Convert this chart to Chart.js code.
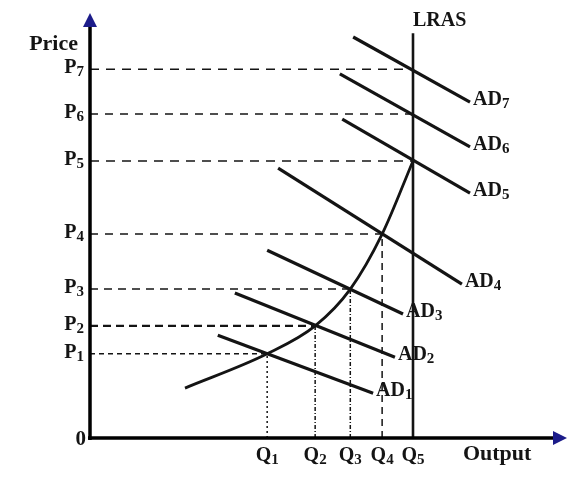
<!DOCTYPE html>
<html>
<head>
<meta charset="utf-8">
<script src="https://cdn.jsdelivr.net/npm/chart.js@4"></script>
<style>
  html, body { margin: 0; padding: 0; background: #fff; }
  #wrap { width: 584px; height: 479px; position: relative; }
</style>
</head>
<body>
<div id="wrap"><canvas id="chart"></canvas></div>
<script>
/* Data (axis units 0-100) */
const qNames = ["1", "2", "3", "4", "5"];
const qValues = [37.3, 47.4, 54.8, 61.5, 68.0];
const pNames = ["1", "2", "3", "4", "5", "6", "7"];
const pValues = [19.9, 26.5, 35.2, 48.2, 65.5, 76.6, 87.2];
// which Q each P meets
const pToQ = [0, 1, 2, 3, 4, 4, 4];

// short-run curve: starting point, then through each equilibrium
const asX = [20.0, 37.3, 47.4, 54.8, 61.5, 68.0];
const asY = [11.8, 19.9, 26.5, 35.2, 48.2, 65.5];

// AD lines: start and end points
const adNames = ["1", "2", "3", "4", "5", "6", "7"];
const adStartX = [26.9, 30.5, 37.3, 39.6, 53.1, 52.6, 55.4];
const adStartY = [24.3, 34.3, 44.4, 63.8, 75.4, 86.1, 94.8];
const adEndX = [59.6, 64.2, 65.9, 78.3, 80.0, 80.0, 80.0];
const adEndY = [10.6, 19.1, 29.3, 36.4, 57.9, 68.8, 79.4];

const lrasTop = 95.7;

const INK = "#141414";
const ARROW = "#1c1c8a";
const FONT = "'Liberation Serif', 'Times New Roman', serif";

/* Datasets */
const datasets = [];

// horizontal dashed guides
pValues.forEach((p, i) => {
    const dashes = [[5, 4], [8, 5], [8, 6], [8, 7], [9, 7], [8, 7], [9, 7]];
    datasets.push({
        data: [{ x: 0, y: p }, { x: qValues[pToQ[i]], y: p }],
        borderColor: INK,
        borderWidth: i === 1 ? 2.2 : 1.5,
        borderDash: dashes[i]
    });
});

// vertical guides under Q1..Q4
const vDashes = [[2, 3], [4, 2, 1, 2], [4, 2, 1, 2], [7, 5]];
qValues.slice(0, 4).forEach((q, i) => {
    datasets.push({
        data: [{ x: q, y: 0 }, { x: q, y: pValues[i] }],
        borderColor: INK,
        borderWidth: 1.5,
        borderDash: vDashes[i]
    });
});

// AD lines
adNames.forEach((n, i) => {
    datasets.push({
        data: [{ x: adStartX[i], y: adStartY[i] }, { x: adEndX[i], y: adEndY[i] }],
        borderColor: INK,
        borderWidth: 3.2
    });
});

// LRAS
datasets.push({
    data: [{ x: qValues[4], y: 0 }, { x: qValues[4], y: lrasTop }],
    borderColor: INK,
    borderWidth: 2.6
});

// AS curve
datasets.push({
    data: asX.map((x, i) => ({ x, y: asY[i] })),
    borderColor: INK,
    borderWidth: 2.8,
    cubicInterpolationMode: "monotone"
});

/* Helpers */
function subText(ctx, main, sub, x, y, align, size) {
    const subSize = Math.round(size * 0.74);
    ctx.font = `bold ${size}px ${FONT}`;
    const wMain = ctx.measureText(main).width;
    ctx.font = `bold ${subSize}px ${FONT}`;
    const wSub = ctx.measureText(sub).width;
    const total = wMain + wSub;
    let left = x;
    if (align === "right") left = x - total;
    if (align === "center") left = x - total / 2;
    ctx.textAlign = "left";
    ctx.textBaseline = "middle";
    ctx.fillStyle = INK;
    ctx.font = `bold ${size}px ${FONT}`;
    ctx.fillText(main, left, y);
    ctx.font = `bold ${subSize}px ${FONT}`;
    ctx.fillText(sub, left + wMain, y + size * 0.22);
}

const decor = {
    id: "decor",
    afterDraw(chart) {
        const ctx = chart.ctx;
        const xs = chart.scales.x, ys = chart.scales.y;
        const x0 = xs.getPixelForValue(0), y0 = ys.getPixelForValue(0);
        const xEnd = xs.getPixelForValue(100), yEnd = ys.getPixelForValue(100);
        ctx.save();

        // axes
        ctx.strokeStyle = "#000";
        ctx.lineWidth = 3.5;
        ctx.beginPath();
        ctx.moveTo(x0, y0 + 2);
        ctx.lineTo(x0, yEnd + 10);
        ctx.moveTo(x0 - 2, y0);
        ctx.lineTo(xEnd - 10, y0);
        ctx.stroke();

        // arrow heads
        ctx.fillStyle = ARROW;
        ctx.beginPath();
        ctx.moveTo(x0, yEnd - 2);
        ctx.lineTo(x0 - 7, yEnd + 12);
        ctx.lineTo(x0 + 7, yEnd + 12);
        ctx.closePath();
        ctx.fill();
        ctx.beginPath();
        ctx.moveTo(xEnd + 2, y0);
        ctx.lineTo(xEnd - 12, y0 - 7);
        ctx.lineTo(xEnd - 12, y0 + 7);
        ctx.closePath();
        ctx.fill();

        // P labels
        pValues.forEach((p, i) => {
            subText(ctx, "P", pNames[i], x0 - 6, ys.getPixelForValue(p) - 1, "right", 20);
        });
        // Q labels
        qValues.forEach((q, i) => {
            subText(ctx, "Q", qNames[i], xs.getPixelForValue(q), y0 + 18, "center", 20);
        });
        // AD labels
        adNames.forEach((n, i) => {
            subText(ctx, "AD", n, xs.getPixelForValue(adEndX[i]) + 3,
                ys.getPixelForValue(adEndY[i]) - 2, "left", 20);
        });

        ctx.fillStyle = INK;
        ctx.textBaseline = "middle";
        ctx.font = `bold 21px ${FONT}`;
        ctx.textAlign = "right";
        ctx.fillText("0", x0 - 4, y0 + 2);
        ctx.font = `bold 22px ${FONT}`;
        ctx.fillText("Price", x0 - 12, yEnd + 29);
        ctx.textAlign = "left";
        ctx.fillText("Output", xs.getPixelForValue(78.5), y0 + 16);
        ctx.font = `bold 20px ${FONT}`;
        ctx.fillText("LRAS", xs.getPixelForValue(qValues[4]), yEnd + 6);
        ctx.restore();
    }
};

/* Chart */
new Chart(document.getElementById("chart"), {
    type: "scatter",
    data: { datasets },
    options: {
        responsive: true,
        maintainAspectRatio: false,
        animation: false,
        layout: { padding: { left: 90, right: 19, top: 15, bottom: 41 } },
        elements: { point: { radius: 0 }, line: { tension: 0 } },
        datasets: { scatter: { showLine: true, pointRadius: 0, fill: false } },
        plugins: { legend: { display: false }, tooltip: { enabled: false } },
        scales: {
            x: { type: "linear", min: 0, max: 100, display: false },
            y: { type: "linear", min: 0, max: 100, display: false }
        }
    },
    plugins: [decor]
});
</script>
</body>
</html>
